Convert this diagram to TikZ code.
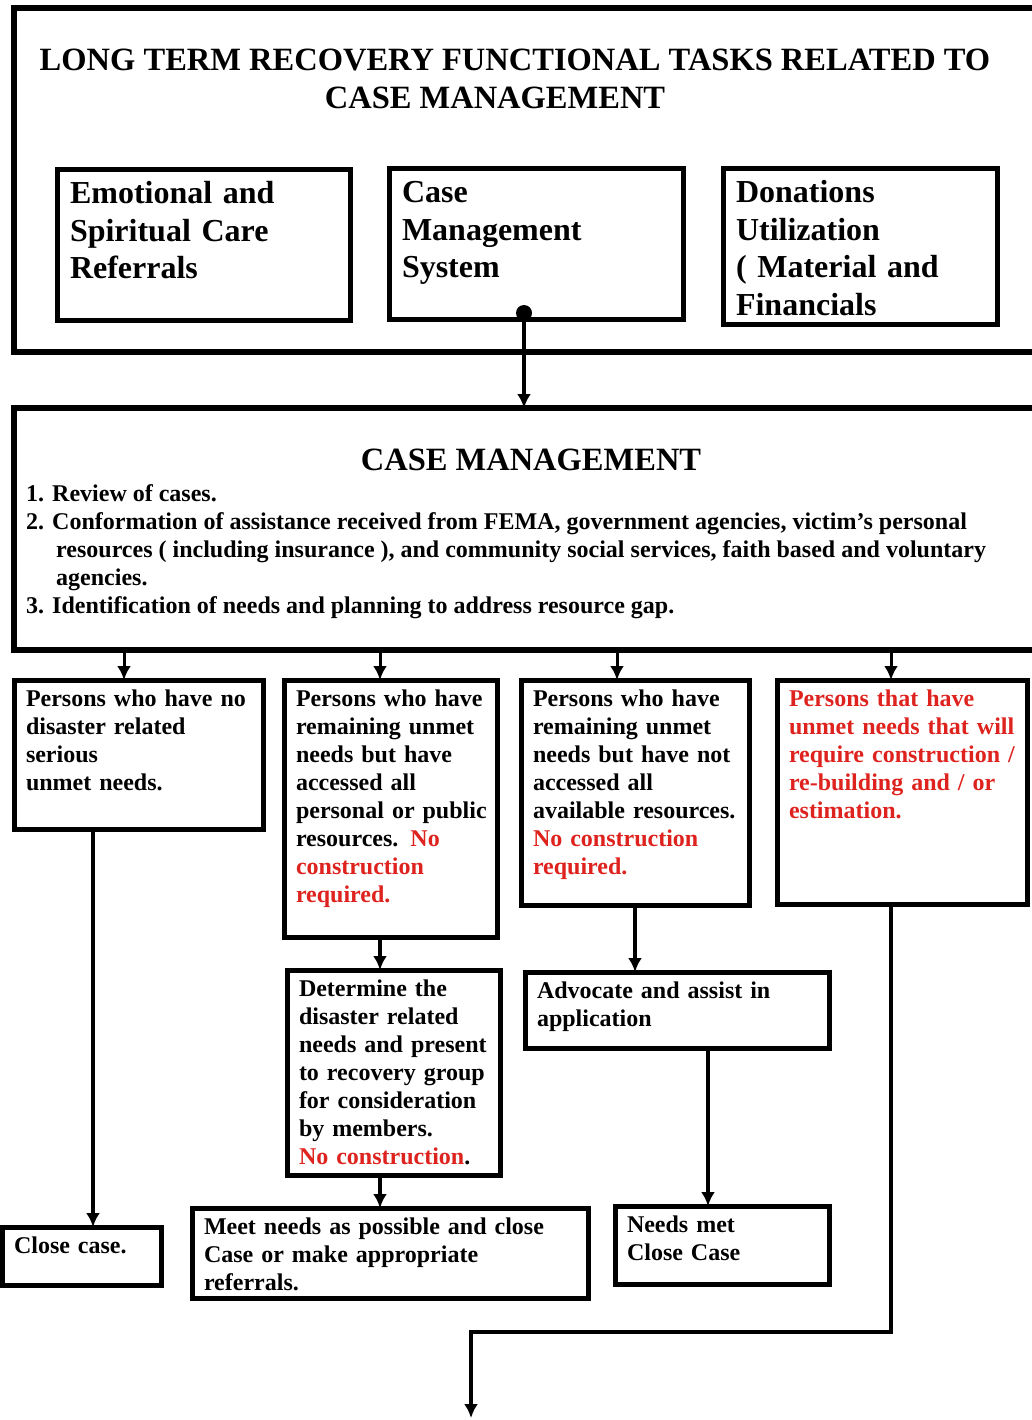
\documentclass[tikz,border=0pt]{standalone}
\usepackage{fontspec}
\setmainfont{Liberation Serif}
\usetikzlibrary{arrows.meta}

\begin{document}
\begin{tikzpicture}[x=1pt, y=-1pt,
	frame/.style={draw, line width=6pt, anchor=north west, inner sep=0pt, outer sep=0pt},
	head/.style={font=\fontsize{32.5}{37.5}\selectfont\bfseries, align=center},
	topbox/.style={draw, line width=5pt, anchor=north west, align=left, outer sep=0pt,
		inner xsep=13pt, inner ysep=8pt, text height=26pt, font=\fontsize{32}{37.5}\selectfont\bfseries},
	card/.style={draw, line width=5pt, anchor=north west, align=left, outer sep=0pt,
		inner xsep=12pt, inner ysep=6pt, text height=20pt, font=\fontsize{24}{28}\selectfont\bfseries},
	arrow/.style={line width=4pt, -{Latex[length=14pt, width=14pt]}},
	dot/.style={circle, fill, inner sep=0pt, minimum size=16pt}]

	% Define colors
	\definecolor{alertred}{RGB}{222,35,30}

	% Keep to the page
	\clip (0,0) rectangle (1032,1420);

	% Draw the top frame and its boxes
	\node[frame, minimum width=1040pt, minimum height=344pt] (tasks) at (14,8) {};
	\node[head] (title) at (515,79) {LONG TERM RECOVERY FUNCTIONAL TASKS RELATED TO\\CASE MANAGEMENT\hspace*{40pt}};
	\node[topbox, text width=267pt, text depth=108pt] (emotional) at (57,170) {Emotional and\\Spiritual Care\\Referrals};
	\node[topbox, text width=268pt, text depth=108pt] (system) at (389,169) {Case\\Management\\System};
	\node[topbox, text width=248pt, text depth=113pt] (donations) at (723,169) {Donations\\Utilization\\( Material and\\Financials};
	\node[dot] (cmsdot) at (524,313) {};

	% Draw the case management frame
	\node[frame, minimum width=1040pt, minimum height=242pt] (cases) at (14,408) {};
	\node[head] (casetitle) at (531,460) {CASE MANAGEMENT};
	\node[anchor=north west, inner sep=0pt, align=left, font=\fontsize{24}{28}\selectfont\bfseries] (tasklist) at (26,484) {1. Review of cases.\\
		2. Conformation of assistance received from FEMA, government agencies, victim's personal\\
		\hspace*{30pt}resources ( including insurance ), and community social services, faith based and voluntary\\
		\hspace*{30pt}agencies.\\
		3. Identification of needs and planning to address resource gap.};

	% Draw the first row
	\node[card, text width=225pt, text depth=117pt] (nodisaster) at (14,680) {Persons who have no\\disaster related\\serious\\unmet needs.};
	\node[card, text width=189pt, text depth=225pt] (accessed) at (284,680) {Persons who have\\remaining unmet\\needs but have\\accessed all\\\mbox{personal or public}\\resources. {\color{alertred}No\\construction\\required.}};
	\node[card, text width=204pt, text depth=193pt] (notaccessed) at (521,680) {Persons who have\\remaining unmet\\needs but have not\\accessed all\\available resources.\\{\color{alertred}No construction\\required.}};
	\node[card, text width=226pt, text depth=192pt, text=alertred] (construction) at (777,680) {Persons that have\\unmet needs that will\\require construction /\\re-building and / or\\estimation.};

	% Draw the lower boxes
	\node[card, text width=189pt, text depth=173pt] (determine) at (287,970) {Determine the\\disaster related\\needs and present\\to recovery group\\for consideration\\by members.\\{\color{alertred}No construction}.};
	\node[card, text width=280pt, text depth=44pt] (advocate) at (525,972) {Advocate and assist in\\application};
	\node[card, text width=135pt, text depth=26pt] (closecase) at (2,1227) {Close case.};
	\node[card, text width=372pt, text depth=58pt] (meetneeds) at (192,1208) {Meet needs as possible and close\\Case or make appropriate\\referrals.};
	\node[card, text width=190pt, text depth=46pt] (needsmet) at (615,1206) {Needs met\\Close Case};

	% Draw the connectors
	\foreach \name/\x in {colA/124, colB/380, colC/617, colD/891, colE/93, colF/635, colG/708}
		\coordinate (\name) at (\x,0);
	\coordinate (elbow) at (471,1332);
	\coordinate (exit) at (471,1418);

	\draw[arrow] (cmsdot) -- (cmsdot |- cases.north);
	\foreach \col/\card in {colA/nodisaster, colB/accessed, colC/notaccessed, colD/construction}
		\draw[arrow, line width=3pt] (\col |- cases.south) -- (\col |- \card.north);
	\draw[arrow] (colE |- nodisaster.south) -- (colE |- closecase.north);
	\draw[arrow] (colB |- accessed.south) -- (colB |- determine.north);
	\draw[arrow] (colB |- determine.south) -- (colB |- meetneeds.north);
	\draw[arrow] (colF |- notaccessed.south) -- (colF |- advocate.north);
	\draw[arrow] (colG |- advocate.south) -- (colG |- needsmet.north);
	\draw[arrow] (colD |- construction.south) |- (elbow) -- (exit);

\end{tikzpicture}
\end{document}
